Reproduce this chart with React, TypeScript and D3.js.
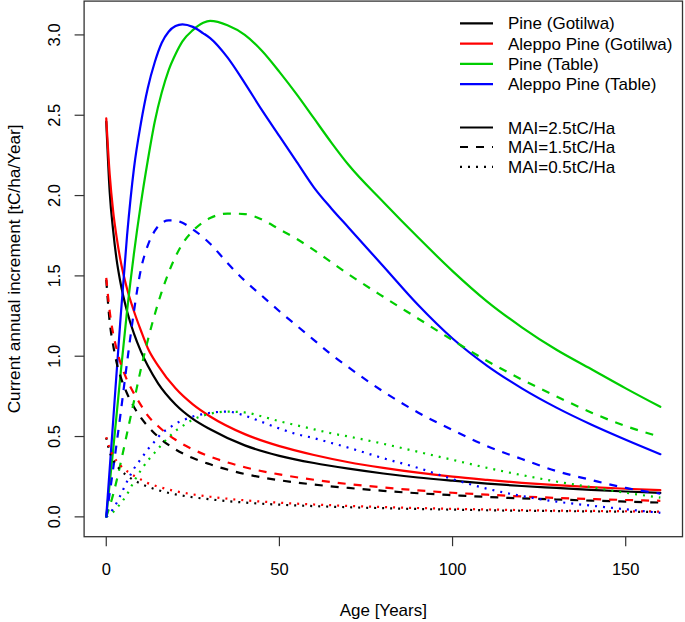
import React from "react";
import * as d3 from "d3";

// ---- data ----
const agesGotilwa = [0, 1, 2, 3, 4, 6, 8, 10, 12, 15, 20, 25, 30, 40, 50, 60, 70, 80, 90, 100, 110, 120, 130, 140, 150, 160];
const agesTable = [0, 2, 4, 6, 8, 10, 12, 14, 16, 18, 20, 22, 25, 28, 30, 35, 40, 45, 50, 55, 60, 65, 70, 80, 90, 100, 110, 120, 130, 140, 150, 160];

const pineGotilwa25 = [2.46, 2.02, 1.78, 1.6, 1.47, 1.28, 1.14, 1.03, 0.94, 0.83, 0.7, 0.61, 0.545, 0.445, 0.38, 0.335, 0.3, 0.27, 0.245, 0.225, 0.207, 0.192, 0.18, 0.168, 0.158, 0.149];
const aleppoGotilwa25 = [2.48, 2.13, 1.9, 1.74, 1.61, 1.42, 1.28, 1.16, 1.05, 0.94, 0.8, 0.7, 0.625, 0.515, 0.44, 0.385, 0.34, 0.305, 0.275, 0.25, 0.23, 0.212, 0.197, 0.185, 0.175, 0.166];
const pineGotilwa15 = [1.476, 1.212, 1.068, 0.96, 0.882, 0.768, 0.684, 0.618, 0.564, 0.498, 0.42, 0.366, 0.327, 0.267, 0.228, 0.201, 0.18, 0.162, 0.147, 0.135, 0.124, 0.115, 0.108, 0.101, 0.095, 0.089];
const aleppoGotilwa15 = [1.488, 1.278, 1.14, 1.044, 0.966, 0.852, 0.768, 0.696, 0.63, 0.564, 0.48, 0.42, 0.375, 0.309, 0.264, 0.231, 0.204, 0.183, 0.165, 0.15, 0.138, 0.127, 0.118, 0.111, 0.105, 0.1];
const pineGotilwa05 = [0.492, 0.404, 0.356, 0.32, 0.294, 0.256, 0.228, 0.206, 0.188, 0.166, 0.14, 0.122, 0.109, 0.089, 0.076, 0.067, 0.06, 0.054, 0.049, 0.045, 0.041, 0.038, 0.036, 0.034, 0.032, 0.03];
const aleppoGotilwa05 = [0.496, 0.426, 0.38, 0.348, 0.322, 0.284, 0.256, 0.232, 0.21, 0.188, 0.16, 0.14, 0.125, 0.103, 0.088, 0.077, 0.068, 0.061, 0.055, 0.05, 0.046, 0.042, 0.039, 0.037, 0.035, 0.033];

const pineTable25 = [0, 0.42, 0.86, 1.28, 1.64, 1.95, 2.22, 2.46, 2.64, 2.78, 2.88, 2.96, 3.03, 3.075, 3.087, 3.06, 3.0, 2.9, 2.77, 2.63, 2.48, 2.33, 2.19, 1.96, 1.74, 1.53, 1.34, 1.18, 1.04, 0.92, 0.8, 0.685];
const aleppoTable25 = [0, 0.6, 1.2, 1.75, 2.17, 2.45, 2.67, 2.83, 2.95, 3.02, 3.055, 3.066, 3.05, 3.01, 2.98, 2.86, 2.7, 2.53, 2.37, 2.21, 2.05, 1.92, 1.8, 1.56, 1.32, 1.11, 0.94, 0.8, 0.68, 0.575, 0.48, 0.39];
const pineTable15 = [0, 0.14, 0.32, 0.52, 0.72, 0.92, 1.1, 1.26, 1.4, 1.52, 1.62, 1.7, 1.78, 1.835, 1.86, 1.888, 1.885, 1.85, 1.79, 1.73, 1.66, 1.585, 1.51, 1.37, 1.235, 1.1, 0.97, 0.855, 0.75, 0.65, 0.565, 0.498];
const aleppoTable15 = [0, 0.3, 0.62, 0.96, 1.28, 1.54, 1.69, 1.78, 1.83, 1.845, 1.845, 1.83, 1.79, 1.74, 1.7, 1.58, 1.47, 1.375, 1.28, 1.19, 1.1, 1.01, 0.93, 0.78, 0.65, 0.54, 0.44, 0.36, 0.285, 0.23, 0.18, 0.145];
const pineTable05 = [0, 0.03, 0.08, 0.14, 0.22, 0.29, 0.35, 0.4, 0.45, 0.495, 0.535, 0.565, 0.605, 0.63, 0.642, 0.655, 0.65, 0.625, 0.595, 0.57, 0.545, 0.52, 0.5, 0.455, 0.405, 0.355, 0.305, 0.26, 0.22, 0.185, 0.15, 0.12];
const aleppoTable05 = [0, 0.05, 0.13, 0.22, 0.3, 0.36, 0.42, 0.47, 0.52, 0.55, 0.58, 0.6, 0.625, 0.64, 0.648, 0.655, 0.63, 0.59, 0.55, 0.515, 0.49, 0.46, 0.43, 0.365, 0.305, 0.235, 0.175, 0.13, 0.095, 0.07, 0.047, 0.025];

const xTicks = [0, 50, 100, 150];
const yTicks = [0, 0.5, 1, 1.5, 2, 2.5, 3];
const speciesLabels = ["Pine (Gotilwa)", "Aleppo Pine (Gotilwa)", "Pine (Table)", "Aleppo Pine (Table)"];
const maiLabels = ["MAI=2.5tC/Ha", "MAI=1.5tC/Ha", "MAI=0.5tC/Ha"];

const COLORS = ["#000000", "#ff0000", "#00cd00", "#0000ff"];
const DASHES = [null, "8,8", "2,6"];

type Series = { ages: number[]; vals: number[]; color: string; dash: string | null };

const series: Series[] = [
  { ages: agesGotilwa, vals: pineGotilwa25, color: COLORS[0], dash: DASHES[0] },
  { ages: agesGotilwa, vals: aleppoGotilwa25, color: COLORS[1], dash: DASHES[0] },
  { ages: agesTable, vals: pineTable25, color: COLORS[2], dash: DASHES[0] },
  { ages: agesTable, vals: aleppoTable25, color: COLORS[3], dash: DASHES[0] },
  { ages: agesGotilwa, vals: pineGotilwa15, color: COLORS[0], dash: DASHES[1] },
  { ages: agesGotilwa, vals: aleppoGotilwa15, color: COLORS[1], dash: DASHES[1] },
  { ages: agesTable, vals: pineTable15, color: COLORS[2], dash: DASHES[1] },
  { ages: agesTable, vals: aleppoTable15, color: COLORS[3], dash: DASHES[1] },
  { ages: agesGotilwa, vals: pineGotilwa05, color: COLORS[0], dash: DASHES[2] },
  { ages: agesGotilwa, vals: aleppoGotilwa05, color: COLORS[1], dash: DASHES[2] },
  { ages: agesTable, vals: pineTable05, color: COLORS[2], dash: DASHES[2] },
  { ages: agesTable, vals: aleppoTable05, color: COLORS[3], dash: DASHES[2] },
];

const W = 685;
const H = 622;
const FONT = "'Liberation Sans', Arial, Helvetica, sans-serif";

export default function App() {
  const x = d3.scaleLinear().domain([-6.4, 166.4]).range([84.1, 682.5]);
  const y = d3.scaleLinear().domain([-0.1235, 3.2105]).range([536.7, 1.1]);
  const [x0, x1] = x.range();
  const [yb, yt] = y.range();

  const line = (ages: number[], vals: number[]) =>
    d3
      .line<number>()
      .x((_, i) => x(ages[i]))
      .y((v) => y(v))
      .curve(d3.curveMonotoneX)(vals) || "";

  const legendX1 = 460;
  const legendX2 = 493;
  const legendTextX = 508;
  const speciesY = [23.3, 43.6, 63.8, 84.2];
  const maiY = [127.5, 147, 166.8];

  return (
    <svg
      width={W}
      height={H}
      style={{ position: "absolute", left: 0, top: 0, background: "#fff" }}
      fontFamily={FONT}
    >
      <rect x={0} y={0} width={W} height={H} fill="#fff" />
      <g>
        {series.map((s, i) => (
          <path
            key={i}
            d={line(s.ages, s.vals)}
            fill="none"
            stroke={s.color}
            strokeWidth={2.2}
            strokeDasharray={s.dash || undefined}
            strokeLinecap={s.dash ? "butt" : "round"}
          />
        ))}
      </g>
      {/* box */}
      <rect x={x0} y={yt} width={x1 - x0} height={yb - yt} fill="none" stroke="#333" strokeWidth={1.3} />
      {/* x axis */}
      <g>
        {xTicks.map((t) => (
          <g key={t}>
            <line x1={x(t)} x2={x(t)} y1={yb} y2={yb + 9.5} stroke="#333" strokeWidth={1.2} />
            <text x={x(t)} y={575} textAnchor="middle" fontSize={16.5} fill="#000">
              {t}
            </text>
          </g>
        ))}
        <text x={(x0 + x1) / 2} y={616} textAnchor="middle" fontSize={17} fill="#000">
          Age [Years]
        </text>
      </g>
      {/* y axis */}
      <g>
        {yTicks.map((t) => (
          <g key={t}>
            <line x1={x0 - 9.5} x2={x0} y1={y(t)} y2={y(t)} stroke="#333" strokeWidth={1.2} />
            <text
              transform={`translate(60,${y(t)}) rotate(-90)`}
              textAnchor="middle"
              fontSize={16.5}
              fill="#000"
            >
              {d3.format(".1f")(t)}
            </text>
          </g>
        ))}
        <text
          transform={`translate(19.5,${(yb + yt) / 2}) rotate(-90)`}
          textAnchor="middle"
          fontSize={17.2}
          fill="#000"
        >
          Current annual increment [tC/ha/Year]
        </text>
      </g>
      {/* legend */}
      <g fontSize={17}>
        {speciesLabels.map((lab, i) => (
          <g key={lab}>
            <line x1={legendX1} x2={legendX2} y1={speciesY[i]} y2={speciesY[i]} stroke={COLORS[i]} strokeWidth={2.2} />
            <text x={legendTextX} y={speciesY[i] + 6} fill="#000">
              {lab}
            </text>
          </g>
        ))}
        {maiLabels.map((lab, i) => (
          <g key={lab}>
            <line
              x1={legendX1}
              x2={legendX2}
              y1={maiY[i]}
              y2={maiY[i]}
              stroke="#000"
              strokeWidth={2.2}
              strokeDasharray={DASHES[i] || undefined}
            />
            <text x={legendTextX} y={maiY[i] + 6} fill="#000">
              {lab}
            </text>
          </g>
        ))}
      </g>
    </svg>
  );
}
